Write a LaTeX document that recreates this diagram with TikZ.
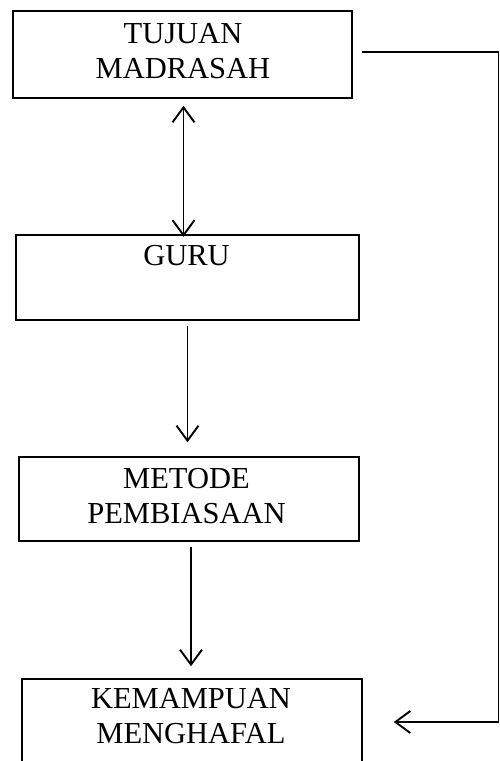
\documentclass[tikz,border=0pt]{standalone}
\usepackage{fontspec}
\setmainfont{Liberation Serif}
\usetikzlibrary{arrows.meta}

\begin{document}
\begin{tikzpicture}[x=1pt, y=-1pt,
  box/.style={draw, line width=1.5pt, rectangle, inner sep=0pt},
  lbl/.style={anchor=north, inner sep=0pt, align=center,
              font=\fontsize{30.5}{35}\selectfont},
  arr/.style={-{Straight Barb[length=15pt, width=22pt]}, line width=1.9pt},
  dbl/.style={{Straight Barb[length=15pt, width=22pt]}-{Straight Barb[length=15pt, width=22pt]}, line width=1.9pt},
  link/.style={line width=1.8pt}]

\useasboundingbox (0,0) rectangle (500,761);
\clip (0,0) rectangle (500,761);

% boxes
\node[box, minimum width=339pt, minimum height=87pt] (b1) at (182.5,54.5) {};
\node[box, minimum width=343pt, minimum height=85pt] (b2) at (187.5,277.5) {};
\node[box, minimum width=340pt, minimum height=84pt] (b3) at (189,499) {};
\node[box, minimum width=340pt, minimum height=83pt] (b4) at (192,720.5) {};

% labels, set near the top of each box
\node[lbl] (t1) at (183,23) {TUJUAN\\MADRASAH};
\node[lbl] (t2) at (186.5,245) {GURU};
\node[lbl] (t3) at (186.5,468) {METODE\\PEMBIASAAN};
\node[lbl] (t4) at (191,688) {KEMAMPUAN\\MENGHAFAL};

% vertical arrows between the boxes
\draw[dbl, shorten >=4.5pt] ([shift={(1,7)}]b1.south) -- ([shift={(1,7)}]b1.south |- b2.north);
\draw[arr, shorten >=19pt] ([shift={(0,5)}]b2.south) -- ([shift={(0,5)}]b2.south |- b3.north);
\draw[arr, shorten >=17pt] ([shift={(2,5)}]b3.south) -- ([shift={(2,5)}]b3.south |- b4.north);

% feedback line along the right edge
\coordinate (c1) at (498.5,52);
\coordinate (c2) at (498.5,722);
\draw[link] ([shift={(9,-2.5)}]b1.east) -- (c1) -- (c2);
\draw[arr, shorten >=31pt] (c2) -- (c2 -| b4.east);
\end{tikzpicture}
\end{document}
